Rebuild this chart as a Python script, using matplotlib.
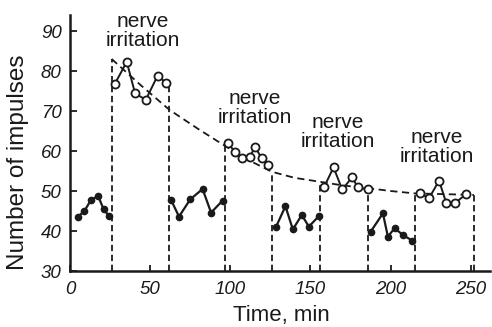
import numpy as np
import matplotlib
matplotlib.use('Agg')
import matplotlib.pyplot as plt

plt.rcParams['font.family'] = ['Liberation Sans', 'DejaVu Sans']

# control periods (filled circles)
ctrl_t = [
    [5, 9, 13, 17.5, 21, 24.5],
    [63, 68, 75, 82.7, 88, 95.2],
    [128.6, 134.4, 139, 144.6, 149, 155.2],
    [187.5, 195.2, 198.3, 202.5, 207.7, 213.5],
]
ctrl_v = [
    [43.6, 45, 47.7, 48.8, 45.4, 43.7],
    [47.8, 43.6, 47.9, 50.5, 44.6, 47.6],
    [41.1, 46.2, 40.4, 44, 41.1, 43.7],
    [39.8, 44.4, 38.6, 40.7, 39, 37.6],
]

# nerve irritation periods (open circles)
irr_t = [
    [28, 35.4, 40.6, 47.3, 54.6, 59.8],
    [98.5, 103, 107.5, 112, 115.5, 119.5, 123.5],
    [158.5, 164.4, 169.8, 176, 179.6, 185.8],
    [218.6, 224, 230.2, 234.8, 240, 247.3],
]
irr_v = [
    [76.8, 82.3, 74.4, 72.8, 78.8, 77.1],
    [62, 59.7, 58.3, 58.5, 61, 58.2, 56.5],
    [51, 55.9, 50.4, 53.4, 50.9, 50.4],
    [49.4, 48.2, 52.6, 46.9, 46.9, 49.3],
]

# period boundaries (dashed verticals)
bound_t = [26, 62, 96.5, 126, 156, 186, 215, 252]
bound_top = [83, 77.5, 62, 54.8, 52.3, 50.7, 49.4, 49]

# dashed trend curve
trend_t = [26, 44, 62, 80, 97, 111, 126, 140, 156, 170, 186, 200, 215, 235, 252]
trend_v = [83, 76.5, 70.3, 65.5, 61.2, 57.8, 54.8, 53.3, 52.3, 51.4, 50.7, 50, 49.4, 49.2, 49]

label_t = [45.5, 115.3, 167, 228.8]
label_v = [90, 70.75, 64.75, 61]

xticks = [0, 50, 100, 150, 200, 250]
yticks = [30, 40, 50, 60, 70, 80, 90]

ink = '#1a1a1a'

fig = plt.figure(figsize=(4.92, 3.27), dpi=100)
ax = fig.add_axes([70 / 492, 1 - 271 / 327, 420 / 492, 256 / 327])

# dashed boundaries and trend
for t, top in zip(bound_t, bound_top):
    ax.plot([t, t], [30, top], color=ink, lw=1.3, ls=(0, (3.5, 2)))
ax.plot(trend_t, trend_v, color=ink, lw=1.3, ls=(0, (4, 2.5)))

for t, v in zip(ctrl_t, ctrl_v):
    ax.plot(t, v, color=ink, lw=1.6, marker='o', ms=4.5, mfc=ink, mec=ink)
for t, v in zip(irr_t, irr_v):
    ax.plot(t, v, color=ink, lw=1.4, marker='o', ms=5.8, mfc='white', mec=ink, mew=1.3)

for t, v in zip(label_t, label_v):
    ax.text(t, v, 'nerve\nirritation', ha='center', va='center', fontsize=15,
            color=ink, linespacing=0.95)

ax.set_xlim(0, 262)
ax.set_ylim(30, 94)
ax.set_xticks(xticks)
ax.set_yticks(yticks)
ax.set_xticklabels([str(x) for x in xticks], style='italic', fontsize=13.5)
ax.set_yticklabels([str(y) for y in yticks], style='italic', fontsize=13.5)
ax.tick_params(axis='y', direction='in', length=5, width=1.3, pad=6, colors=ink)
ax.tick_params(axis='x', direction='in', length=4, width=1.3, pad=7, colors=ink)
ax.spines['top'].set_visible(False)
ax.spines['right'].set_visible(False)
ax.spines['left'].set_linewidth(1.8)
ax.spines['bottom'].set_linewidth(1.8)
ax.spines['left'].set_color(ink)
ax.spines['bottom'].set_color(ink)

fig.text(18 / 492, 1 - 162 / 327, 'Number of impulses', rotation=90,
         ha='center', va='center', fontsize=17.5, color=ink)
fig.text(281 / 492, 1 - 316 / 327, 'Time, min', ha='center', va='center',
         fontsize=16, color=ink)

fig.savefig('out.png', dpi=100)
